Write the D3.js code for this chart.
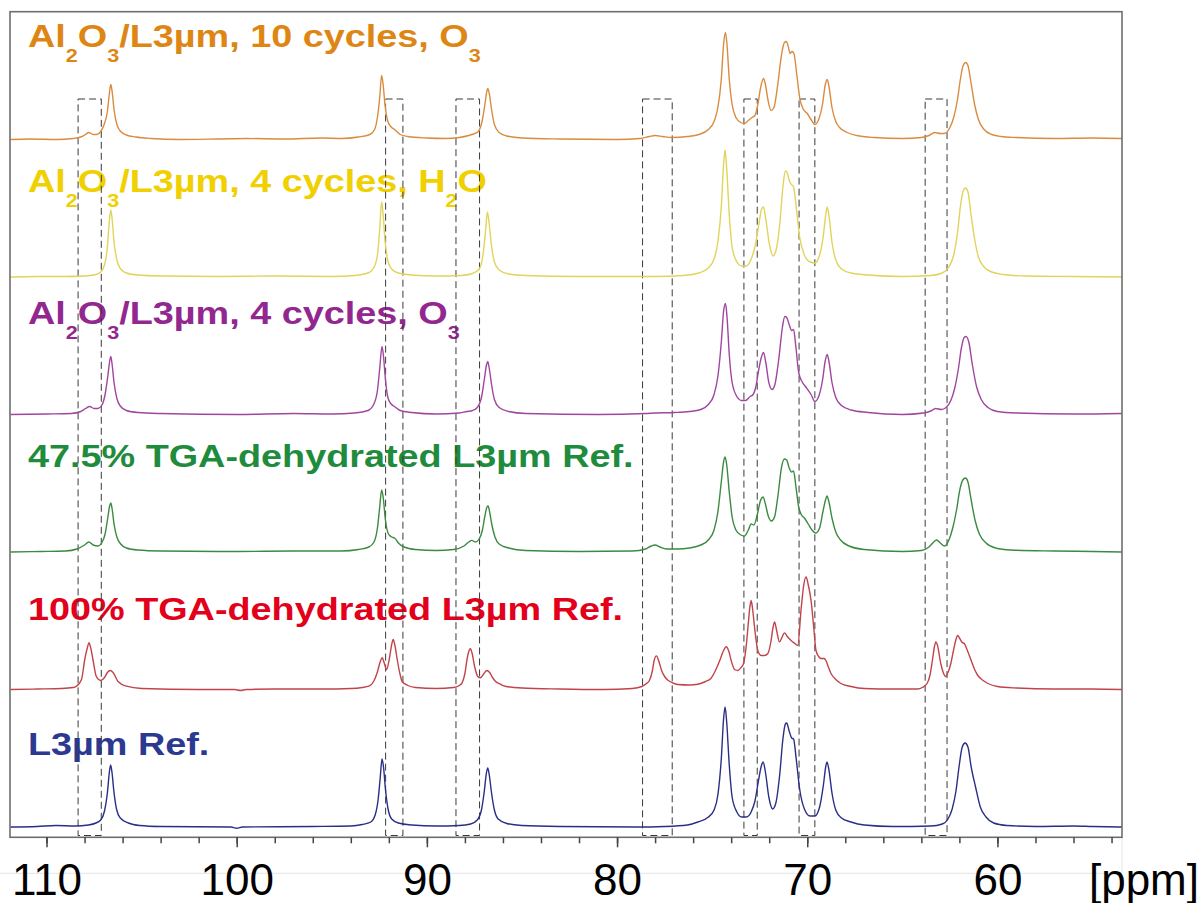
<!DOCTYPE html>
<html>
<head>
<meta charset="utf-8">
<script src="https://cdn.jsdelivr.net/npm/d3@7"></script>
<style>
  body { margin: 0; background: #fff; }
  svg { display: block; font-family: "Liberation Sans", Arial, sans-serif; }
</style>
</head>
<body>
<svg id="chart"></svg>
<script>
// chemical shift axis (ppm, reversed)
const ppmDomain = [111.92, 53.45];
const ppmMajorTicks = [110, 100, 90, 80, 70, 60];
const ppmMinorTicks = [110, 108, 106, 104, 102, 100, 98, 96, 94, 92, 90, 88, 86, 84, 82, 80,
  78, 76, 74, 72, 70, 68, 66, 64, 62, 60, 58, 56, 54];

// series names, bottom to top ("_n" = subscript)
const seriesNames = [
  'L3µm Ref.',
  '100% TGA-dehydrated L3µm Ref.',
  '47.5% TGA-dehydrated L3µm Ref.',
  'Al_2O_3/L3µm, 4 cycles, O_3',
  'Al_2O_3/L3µm, 4 cycles, H_2O',
  'Al_2O_3/L3µm, 10 cycles, O_3',
];

// dashed marker boxes [from ppm, to ppm]
const markedRegions = [[108.34, 107.12], [92.17, 91.26], [88.47, 87.23], [78.66, 77.1],
  [73.33, 72.63], [70.43, 69.6], [63.8, 62.65]];

// spectra: [ppm, intensity]
const specRef = [[111.9, 0], [110.5, 0.5], [109.5, 1.5], [108.5, 1], [107.8, 2], [107.4, 4], [107.15, 7],
  [106.95, 16], [106.8, 34], [106.7, 54], [106.63, 62], [106.56, 55], [106.46, 36], [106.32, 18], [106.12, 9],
  [105.7, 4], [105.1, 1.5], [104.0, 0.5], [100.3, 0], [100.0, -1.2], [99.7, 0], [96.0, 0.5], [94.0, 1], [93.4, 2.5],
  [92.95, 5], [92.72, 12], [92.56, 28], [92.45, 50], [92.36, 68], [92.28, 60], [92.18, 38], [92.04, 18],
  [91.85, 8], [91.5, 4], [90.8, 2], [89.5, 1], [88.3, 1.5], [87.7, 3], [87.35, 7], [87.12, 18], [86.98, 36],
  [86.87, 54], [86.8, 59], [86.72, 52], [86.6, 34], [86.45, 17], [86.25, 8], [85.8, 3.5], [85.0, 1.5],
  [83.0, 0.5], [79.0, 0], [77.5, 0.5], [76.3, 2], [75.75, 5], [75.2, 10], [74.9, 17], [74.7, 32], [74.52, 68],
  [74.4, 108], [74.32, 120], [74.24, 106], [74.1, 62], [73.95, 30], [73.7, 15], [73.45, 10], [73.2, 10],
  [72.95, 15], [72.75, 26], [72.55, 48], [72.4, 62], [72.32, 65], [72.2, 55], [72.02, 30], [71.82, 18],
  [71.65, 24], [71.45, 52], [71.28, 88], [71.15, 103], [71.08, 104], [70.95, 96], [70.82, 89], [70.72, 88],
  [70.58, 68], [70.4, 38], [70.15, 18], [69.85, 11], [69.6, 11], [69.35, 20], [69.15, 42], [69.03, 60],
  [68.96, 65], [68.86, 57], [68.7, 34], [68.5, 17], [68.2, 9], [67.7, 5], [67.0, 2], [65.5, 0.5], [63.5, 1],
  [62.9, 3], [62.6, 8], [62.38, 18], [62.18, 36], [62.02, 60], [61.85, 80], [61.7, 84], [61.55, 80],
  [61.38, 60], [61.15, 40], [60.9, 20], [60.6, 10], [60.2, 4], [59.5, 1.5], [58.0, 0.5], [56.0, 1],
  [55.0, 0.5], [53.45, 0]];

const specDehyd100 = [[111.9, 0], [110.5, 0.5], [109.2, 1], [108.6, 2], [108.43, 3.3], [108.16, 10],
  [107.99, 30], [107.85, 42], [107.77, 46.7], [107.68, 42], [107.56, 30], [107.38, 13], [107.15, 9],
  [106.95, 12], [106.8, 17], [106.65, 19], [106.5, 17], [106.24, 8], [105.8, 3.3], [105.0, 1], [102.0, 0],
  [100.1, 0], [99.8, -1], [99.5, 0], [98.0, 0.5], [95.5, 0.5], [94.0, 1], [93.4, 2], [93.05, 3.3], [92.8, 8], [92.61, 17],
  [92.45, 28], [92.35, 31.7], [92.25, 27], [92.12, 20], [91.98, 30], [91.85, 45], [91.77, 50], [91.68, 44],
  [91.56, 30], [91.42, 16], [91.3, 8], [91.0, 4], [90.6, 2], [89.5, 1], [88.6, 2], [88.3, 4], [88.15, 6.7],
  [88.0, 16], [87.89, 30], [87.78, 39], [87.71, 40.7], [87.62, 36], [87.49, 23], [87.32, 13], [87.19, 11.7],
  [87.0, 16], [86.85, 19], [86.7, 17], [86.55, 12], [86.4, 8.3], [86.1, 5], [85.88, 3.3], [85.0, 1.5],
  [83.0, 0.5], [80.7, 0], [79.2, 1], [78.7, 3], [78.45, 6], [78.3, 9], [78.15, 18], [78.05, 29],
  [77.93, 33.6], [77.8, 28], [77.66, 19], [77.5, 13], [77.3, 9], [77.0, 6], [76.8, 5], [76.2, 4.5],
  [75.75, 5.3], [75.35, 8], [75.07, 11], [74.85, 18], [74.6, 29], [74.4, 39], [74.26, 42.7], [74.12, 38],
  [74.0, 29], [73.82, 20], [73.65, 19], [73.48, 22], [73.35, 26], [73.2, 45], [73.1, 66], [73.02, 82],
  [72.95, 89], [72.87, 80], [72.77, 62], [72.68, 48], [72.6, 39], [72.42, 34], [72.25, 34], [72.07, 36],
  [71.9, 49], [71.8, 62], [71.72, 67.6], [71.62, 60], [71.46, 47.6], [71.33, 52], [71.2, 56.6], [71.05, 53],
  [70.85, 49], [70.65, 46], [70.5, 44], [70.32, 81], [70.18, 105], [70.06, 112.6], [69.95, 105], [69.8, 89],
  [69.65, 60], [69.54, 39], [69.4, 33], [69.28, 31], [69.12, 31], [69.02, 29], [68.88, 22], [68.75, 16],
  [68.5, 10], [68.23, 6], [67.7, 3], [67.0, 1], [65.5, 0.5], [64.2, 0.5], [63.95, 2], [63.7, 6], [63.55, 14],
  [63.42, 29], [63.32, 42], [63.24, 47.6], [63.15, 44], [62.98, 26], [62.85, 17], [62.72, 13], [62.6, 17],
  [62.45, 26], [62.3, 40], [62.18, 50], [62.09, 54], [61.98, 51], [61.85, 47], [61.74, 46], [61.6, 40],
  [61.38, 29], [61.2, 20], [61.03, 14], [60.75, 9], [60.5, 6], [60.0, 3], [59.0, 1.5], [57.0, 0.5],
  [55.0, 0.5], [53.45, 0]];

const specDehyd47 = [[111.9, 0], [110.3, 0.5], [109.0, 1], [108.4, 3], [108.0, 7], [107.78, 10], [107.55, 7],
  [107.3, 6], [107.1, 9], [106.92, 18], [106.78, 34], [106.68, 46], [106.62, 49], [106.55, 43], [106.45, 28],
  [106.3, 15], [106.1, 8], [105.8, 4], [105.2, 2], [104.0, 1], [100.0, 0.5], [97.0, 1], [94.5, 1],
  [93.6, 2.5], [93.05, 5], [92.78, 10], [92.6, 24], [92.48, 45], [92.38, 62], [92.3, 55], [92.18, 32],
  [92.02, 18], [91.85, 15], [91.7, 14], [91.5, 9], [91.2, 5], [90.6, 2.5], [89.5, 1.5], [88.6, 2.5],
  [88.05, 6], [87.8, 10], [87.63, 11.6], [87.45, 10], [87.25, 13], [87.08, 22], [86.95, 36], [86.84, 45],
  [86.78, 46], [86.7, 40], [86.58, 27], [86.42, 15], [86.2, 8], [85.7, 4], [84.8, 1.5], [82.0, 0.5],
  [79.2, 1], [78.5, 3], [78.2, 6], [78.0, 7], [77.75, 5], [77.4, 3], [76.8, 3], [76.2, 4], [75.6, 7],
  [75.2, 12], [74.9, 22], [74.7, 40], [74.52, 70], [74.4, 90], [74.32, 95], [74.24, 88], [74.1, 60],
  [73.95, 35], [73.75, 22], [73.5, 17], [73.3, 16], [73.1, 22], [72.95, 28], [72.8, 27], [72.62, 38],
  [72.45, 52], [72.32, 55], [72.2, 48], [72.05, 36], [71.88, 31], [71.72, 35], [71.55, 55], [71.35, 85],
  [71.2, 93], [71.08, 92], [70.95, 84], [70.82, 80], [70.72, 81], [70.6, 66], [70.45, 45], [70.3, 37],
  [70.15, 34], [69.95, 28], [69.75, 22], [69.55, 19], [69.35, 24], [69.18, 40], [69.04, 52], [68.96, 56],
  [68.86, 50], [68.7, 34], [68.5, 20], [68.25, 12], [67.8, 6], [67.0, 2.5], [65.0, 0.5], [64.0, 1.5],
  [63.6, 5], [63.35, 10], [63.2, 12], [63.0, 9], [62.78, 6], [62.55, 12], [62.35, 24], [62.15, 42],
  [61.98, 62], [61.82, 72], [61.68, 74], [61.55, 70], [61.38, 52], [61.18, 32], [60.95, 18], [60.6, 9],
  [60.1, 4], [59.3, 2], [57.0, 1], [55.0, 0.5], [53.45, 0]];

const specAl4O3 = [[111.9, 0], [110.0, 0.5], [108.7, 1], [108.2, 3], [107.95, 6], [107.73, 8], [107.5, 6],
  [107.3, 6], [107.1, 9], [106.92, 20], [106.78, 38], [106.68, 53], [106.62, 58], [106.55, 50], [106.45, 32],
  [106.3, 16], [106.1, 8], [105.8, 4], [105.2, 2], [104.0, 1], [100.0, 0], [97.0, 1], [95.0, 0.5],
  [93.8, 1.5], [93.1, 4], [92.8, 10], [92.6, 24], [92.48, 46], [92.36, 68], [92.28, 58], [92.18, 35],
  [92.05, 17], [91.9, 11], [91.7, 8], [91.4, 4], [90.8, 2], [89.5, 0.5], [88.3, 1.5], [87.9, 3], [87.6, 4],
  [87.35, 7], [87.12, 18], [86.98, 35], [86.86, 50], [86.8, 53], [86.72, 46], [86.6, 30], [86.45, 15],
  [86.2, 7], [85.7, 3], [84.8, 1], [81.0, 0], [78.5, 1], [78.0, 1.5], [77.0, 2], [76.2, 3], [75.6, 5],
  [75.2, 10], [74.9, 20], [74.7, 38], [74.52, 72], [74.4, 103], [74.3, 111], [74.22, 98], [74.1, 60],
  [73.95, 32], [73.7, 18], [73.45, 14], [73.25, 14], [73.0, 18], [72.85, 20], [72.7, 28], [72.55, 45],
  [72.4, 58], [72.3, 62], [72.18, 52], [72.02, 32], [71.85, 25], [71.7, 30], [71.5, 55], [71.3, 88],
  [71.18, 98], [71.08, 97], [70.95, 90], [70.82, 84], [70.72, 85], [70.6, 68], [70.45, 42], [70.25, 32],
  [70.05, 27], [69.8, 20], [69.6, 13], [69.4, 18], [69.2, 34], [69.05, 54], [68.95, 60], [68.85, 52],
  [68.7, 32], [68.5, 17], [68.2, 9], [67.7, 4.5], [66.8, 2], [65.0, 0], [63.9, 1.5], [63.5, 3.5],
  [63.25, 6], [62.95, 5], [62.7, 7], [62.45, 14], [62.25, 26], [62.05, 46], [61.9, 66], [61.75, 77],
  [61.65, 78], [61.5, 72], [61.32, 50], [61.1, 28], [60.85, 15], [60.5, 7], [60.0, 3], [59.0, 1.5],
  [56.0, 0.5], [53.45, 1]];

const specAl4H2O = [[111.9, 0], [110.5, 0.5], [109.0, 0.5], [108.0, 1], [107.5, 2], [107.15, 5],
  [106.95, 12], [106.8, 30], [106.7, 55], [106.62, 67], [106.55, 58], [106.45, 35], [106.3, 17], [106.1, 8],
  [105.8, 4], [105.2, 2], [104.0, 1], [101.0, 0.5], [98.0, 1], [95.0, 0.5], [93.8, 1.5], [93.1, 4],
  [92.8, 9], [92.6, 22], [92.48, 48], [92.38, 75], [92.3, 62], [92.2, 36], [92.05, 16], [91.85, 8],
  [91.5, 4], [90.8, 2], [89.5, 1], [88.2, 1.5], [87.6, 3.5], [87.25, 8], [87.05, 22], [86.92, 45],
  [86.82, 65], [86.74, 56], [86.62, 34], [86.45, 15], [86.2, 7], [85.7, 3], [84.8, 1.5], [82.0, 0.5],
  [78.0, 0.5], [76.5, 1.5], [75.7, 4], [75.2, 9], [74.9, 18], [74.7, 35], [74.52, 70], [74.4, 112],
  [74.32, 127], [74.24, 110], [74.1, 62], [73.95, 30], [73.7, 15], [73.45, 11], [73.2, 11], [72.95, 18],
  [72.75, 30], [72.55, 52], [72.4, 68], [72.3, 70], [72.18, 58], [72.0, 34], [71.8, 21], [71.65, 26],
  [71.45, 52], [71.28, 90], [71.15, 106], [71.05, 104], [70.92, 95], [70.8, 92], [70.72, 90], [70.58, 70],
  [70.4, 40], [70.15, 22], [69.85, 15], [69.6, 14], [69.35, 22], [69.15, 42], [69.03, 62], [68.95, 70],
  [68.85, 60], [68.7, 35], [68.5, 17], [68.2, 8], [67.7, 4], [66.8, 2], [65.0, 0.5], [63.5, 1.5],
  [62.9, 4], [62.55, 10], [62.3, 22], [62.1, 44], [61.95, 70], [61.8, 86], [61.68, 89], [61.55, 85],
  [61.4, 64], [61.2, 38], [61.0, 20], [60.7, 10], [60.3, 5], [59.7, 2.5], [58.5, 1], [56.0, 0.5],
  [53.45, 0]];

const specAl10O3 = [[111.9, 0], [110.8, 0.5], [109.5, 0], [108.6, 1], [108.2, 2.5], [107.95, 5],
  [107.77, 7], [107.55, 5], [107.35, 5], [107.15, 8], [106.95, 16], [106.8, 28], [106.7, 45], [106.62, 55],
  [106.55, 48], [106.45, 30], [106.3, 15], [106.1, 8], [105.8, 4.5], [105.3, 2.5], [104.5, 1], [103.0, 0],
  [101.0, 0.5], [99.5, 1], [97.5, 0.5], [95.5, 1.5], [94.5, 1], [93.6, 2.5], [93.0, 5], [92.75, 10],
  [92.6, 22], [92.48, 42], [92.38, 64], [92.3, 55], [92.2, 34], [92.05, 18], [91.9, 13], [91.7, 10],
  [91.4, 5], [91.0, 3], [90.0, 1.5], [89.0, 1], [88.3, 2], [87.8, 4], [87.55, 5.5], [87.3, 8], [87.1, 18],
  [86.95, 35], [86.85, 48], [86.8, 51], [86.72, 46], [86.6, 30], [86.45, 15], [86.2, 7], [85.8, 3.5],
  [85.0, 1.5], [83.0, 0.5], [80.0, 0], [78.8, 1], [78.3, 3], [78.0, 4], [77.6, 3], [77.1, 2], [76.3, 3],
  [75.7, 5], [75.2, 10], [74.9, 18], [74.7, 32], [74.52, 60], [74.4, 95], [74.3, 107], [74.22, 95],
  [74.1, 60], [73.95, 35], [73.75, 22], [73.5, 17], [73.3, 16], [73.1, 19], [72.9, 22], [72.75, 24],
  [72.6, 35], [72.45, 52], [72.3, 61], [72.2, 55], [72.05, 38], [71.9, 29], [71.75, 32], [71.55, 55],
  [71.35, 85], [71.2, 97], [71.1, 98], [71.0, 93], [70.9, 86], [70.8, 88], [70.7, 86], [70.55, 65],
  [70.4, 42], [70.2, 30], [70.0, 26], [69.8, 20], [69.6, 15], [69.4, 20], [69.2, 35], [69.05, 55],
  [68.95, 60], [68.85, 52], [68.7, 32], [68.5, 18], [68.3, 12], [67.9, 7], [67.4, 4], [66.5, 2], [65.0, 1],
  [64.0, 2], [63.6, 4], [63.3, 7], [63.0, 6], [62.8, 6], [62.5, 12], [62.3, 22], [62.1, 40], [61.95, 60],
  [61.8, 74], [61.67, 77], [61.55, 74], [61.4, 58], [61.2, 35], [61.0, 20], [60.7, 10], [60.3, 5],
  [59.8, 3], [59.0, 2], [57.0, 1], [55.0, 1.5], [53.45, 1]];

class StackedSpectraChart {
  constructor(_config, _data) {
    this.config = {
      parentElement: _config.parentElement,
      width: _config.width,
      height: _config.height,
      margin: _config.margin,
      stackStep: _config.stackStep,
      labelLift: _config.labelLift,
      traceColors: _config.traceColors,
      labelColors: _config.labelColors,
    };
    this.data = _data;

    this.initVis();
  }

  initVis() {
    const vis = this;
    const { parentElement, width, height, margin } = vis.config;

    vis.svg = d3.select(parentElement)
      .attr('width', width)
      .attr('height', height);

    vis.xScale = d3.scaleLinear()
      .domain(ppmDomain)
      .range([margin.left, width - margin.right]);

    // intensity units ~ pixels, stacked spectra sit on offsets of this scale
    vis.yScale = d3.scaleLinear()
      .domain([-10.3, 815.3])
      .range([height - margin.bottom, margin.top]);

    vis.labelLayer = vis.svg.append('g');
    vis.boxLayer = vis.svg.append('g');
    vis.traceLayer = vis.svg.append('g');
    vis.axisLayer = vis.svg.append('g');
  }

  updateVis() {
    const vis = this;
    const { spectra, names } = vis.data;
    const { stackStep } = vis.config;

    vis.series = spectra.map((points, i) => ({
      points,
      name: names[i],
      offset: i * stackStep,
    }));

    vis.renderVis();
  }

  renderVis() {
    const vis = this;
    const { xScale, yScale, series } = vis;
    const { width, height, margin, traceColors, labelColors, labelLift, stackStep } = vis.config;
    const [x0, x1] = xScale.range();
    const [yBottom, yTop] = yScale.range();

    // faint guide lines under the axis (scan artefact)
    vis.svg.insert('path', ':first-child')
      .attr('d', `M0,873.3H${x1}V${yBottom}`)
      .attr('fill', 'none')
      .attr('stroke', '#e4e4e4')
      .attr('stroke-width', 1);

    // series labels, bold and slightly widened
    series.forEach((s, i) => {
      const parts = s.name.split(/_(\d)/);
      const label = vis.labelLayer.append('text')
        .attr('transform', `translate(28,${yScale(s.offset + labelLift[i])}) scale(1.2,1)`)
        .attr('font-weight', 'bold')
        .attr('fill', labelColors[i]);
      parts.forEach((p, j) => {
        if (p === '') return;
        const isSub = j % 2 === 1;
        label.append('tspan')
          .attr('y', isSub ? 15 : 0)
          .attr('font-size', isSub ? 18 : 31.5)
          .text(p);
      });
    });

    // dashed marker boxes
    const boxTop = yScale(5 * stackStep + 40.5);
    const boxBottom = yScale(-8.5);
    vis.boxLayer.selectAll('rect')
      .data(markedRegions)
      .join('rect')
      .attr('x', (d) => xScale(d[0]))
      .attr('width', (d) => xScale(d[1]) - xScale(d[0]))
      .attr('y', boxTop)
      .attr('height', boxBottom - boxTop)
      .attr('fill', 'none')
      .attr('stroke', '#3a3a3a')
      .attr('stroke-width', 1)
      .attr('stroke-dasharray', '7,4');

    // spectra
    const line = d3.line().curve(d3.curveMonotoneX);
    vis.traceLayer.selectAll('path')
      .data(series)
      .join('path')
      .attr('d', (s) => line(s.points.map((p) => [xScale(p[0]), yScale(p[1] + s.offset)])))
      .attr('fill', 'none')
      .attr('stroke', (_s, i) => traceColors[i])
      .attr('stroke-width', 1.4)
      .attr('stroke-linejoin', 'round');

    // frame
    vis.axisLayer.append('rect')
      .attr('x', x0)
      .attr('y', yTop)
      .attr('width', x1 - x0)
      .attr('height', yBottom - yTop)
      .attr('fill', 'none')
      .attr('stroke', '#6e6e6e')
      .attr('stroke-width', 1.6);

    // minor ticks
    const minorAxis = vis.axisLayer.append('g')
      .attr('transform', `translate(0,${yBottom})`)
      .call(d3.axisBottom(xScale).tickValues(ppmMinorTicks).tickSize(6).tickFormat(''));
    minorAxis.select('.domain').remove();

    // major ticks with labels
    const majorAxis = vis.axisLayer.append('g')
      .attr('transform', `translate(0,${yBottom})`)
      .call(d3.axisBottom(xScale).tickValues(ppmMajorTicks).tickSize(10).tickPadding(16.5)
        .tickFormat(d3.format('d')));
    majorAxis.select('.domain').remove();
    majorAxis.selectAll('text')
      .attr('font-size', 44)
      .attr('font-family', '"Liberation Sans", Arial, sans-serif')
      .attr('fill', '#000');
    vis.axisLayer.selectAll('.tick line')
      .attr('stroke', '#444')
      .attr('stroke-width', 1.5);

    vis.axisLayer.append('text')
      .attr('x', width - 4)
      .attr('y', height - margin.bottom + 57.7)
      .attr('text-anchor', 'end')
      .attr('font-size', 44)
      .attr('fill', '#000')
      .text('[ppm]');
  }
}

const chart = new StackedSpectraChart({
  parentElement: '#chart',
  width: 1203,
  height: 903,
  margin: { top: 11.7, right: 81, bottom: 65.7, left: 10 },
  stackStep: 137.5,
  labelLift: [72, 70, 84.7, 90.7, 85.3, 92.8],
  traceColors: ['#2a2f85', '#c0444a', '#3c8a42', '#a0469e', '#e0d45a', '#d98c3f'],
  labelColors: ['#2b3990', '#e2001a', '#1e8c3c', '#92278f', '#f0d000', '#de8614'],
}, {
  spectra: [specRef, specDehyd100, specDehyd47, specAl4O3, specAl4H2O, specAl10O3],
  names: seriesNames,
});
chart.updateVis();
</script>
</body>
</html>
